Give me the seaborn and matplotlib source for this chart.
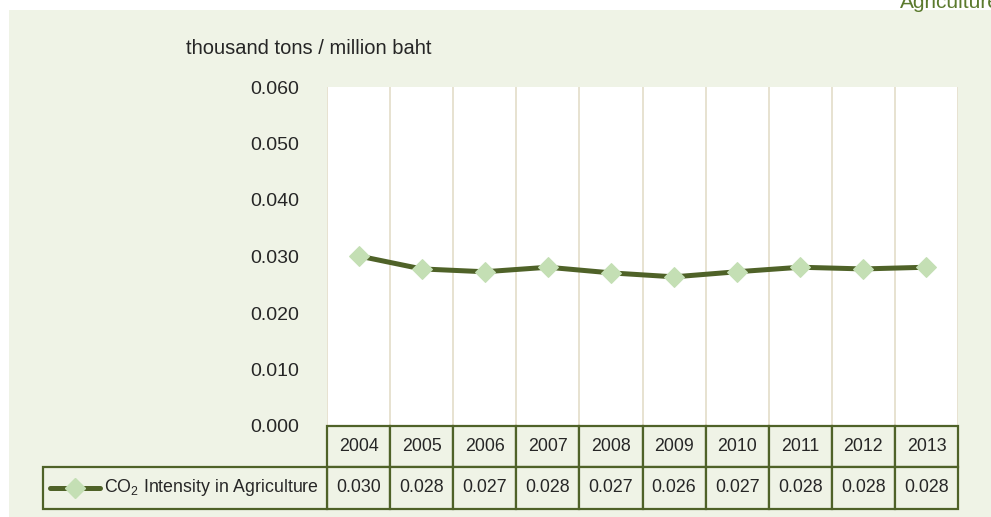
import matplotlib
matplotlib.use("Agg")
import matplotlib.pyplot as plt
import seaborn as sns
import pandas as pd
from matplotlib.patches import Rectangle
from matplotlib.lines import Line2D

years = ["2004", "2005", "2006", "2007", "2008", "2009", "2010", "2011", "2012", "2013"]
values = [0.0301, 0.0278, 0.0273, 0.0281, 0.0271, 0.0264, 0.0273, 0.0281, 0.0278, 0.0281]
y_ticks = [0.000, 0.010, 0.020, 0.030, 0.040, 0.050, 0.060]
series_name = "CO$_2$ Intensity in Agriculture"
unit_label = "thousand tons / million baht"
corner_title = "Agriculture"

sns.set_theme(style="white")
plt.rcParams["font.family"] = ["Liberation Sans", "DejaVu Sans"]
plt.rcParams["mathtext.fontset"] = "custom"
plt.rcParams["mathtext.rm"] = "Liberation Sans"
plt.rcParams["mathtext.it"] = "Liberation Sans:italic"

W, H = 991, 517
BG = "#EFF3E6"
LINE = "#4F6228"
MARK = "#C4DFB4"
GRID = "#E3DDC8"
TXT = "#262626"

fig = plt.figure(figsize=(W / 100, H / 100), dpi=100)
fig.patch.set_facecolor("white")

def fx(px):
    return px / W

def fy(py):
    return 1 - py / H

# green panel
fig.patches.append(Rectangle((fx(9), fy(517)), fx(991) - fx(9), fy(10) - fy(517),
                             transform=fig.transFigure, facecolor=BG, edgecolor="none", zorder=0))
fig.text(fx(900), fy(8), corner_title, color="#5B7A2E", fontsize=15, ha="left",
         va="baseline", zorder=1)

L, R, T, B = 327, 958, 87, 426
ax = fig.add_axes([fx(L), fy(B), fx(R) - fx(L), fy(T) - fy(B)])
ax.set_zorder(1)
ax.set_facecolor("white")

df = pd.DataFrame({"idx": list(range(len(years))), "value": values})
sns.lineplot(data=df, x="idx", y="value", ax=ax, color=LINE, linewidth=3.6,
             marker="D", markersize=10, markerfacecolor=MARK, markeredgecolor=MARK,
             zorder=3)
ax.set_xlim(-0.5, len(years) - 0.5)
ax.set_ylim(0, 0.06)
for i in range(len(years) + 1):
    ax.axvline(i - 0.5, color=GRID, linewidth=1.2, zorder=1)
for s in ax.spines.values():
    s.set_visible(False)
ax.set_xticks([])
ax.set_yticks(y_ticks)
ax.set_yticklabels([f"{v:.3f}" for v in y_ticks], fontsize=14, color=TXT)
ax.tick_params(axis="y", length=0, pad=20)
ax.set_xlabel("")
ax.set_ylabel("")
ax.grid(False)

fig.text(fx(186), fy(48), unit_label, fontsize=14.5, color=TXT, ha="left", va="center",
         zorder=3)

# table
col_w = (R - L) / len(years)
r1t, r1b, r2b = 426, 467, 509
leg_l = 43
for i, yr in enumerate(years):
    x0 = L + i * col_w
    fig.patches.append(Rectangle((fx(x0), fy(r1b)), fx(col_w), fy(r1t) - fy(r1b),
                                 transform=fig.transFigure, facecolor=BG, edgecolor=LINE,
                                 linewidth=1.6, zorder=2))
    fig.patches.append(Rectangle((fx(x0), fy(r2b)), fx(col_w), fy(r1b) - fy(r2b),
                                 transform=fig.transFigure, facecolor=BG, edgecolor=LINE,
                                 linewidth=1.6, zorder=2))
    fig.text(fx(x0 + col_w / 2), fy((r1t + r1b) / 2), yr, fontsize=12.8, color=TXT,
             ha="center", va="center", zorder=3)
    fig.text(fx(x0 + col_w / 2), fy((r1b + r2b) / 2), f"{values[i]:.3f}", fontsize=12.8,
             color=TXT, ha="center", va="center", zorder=3)

fig.patches.append(Rectangle((fx(leg_l), fy(r2b)), fx(L - leg_l), fy(r1b) - fy(r2b),
                             transform=fig.transFigure, facecolor=BG, edgecolor=LINE,
                             linewidth=1.6, zorder=2))
ymid = fy((r1b + r2b) / 2)
fig.lines.append(Line2D([fx(50), fx(100)], [ymid, ymid], transform=fig.transFigure,
                        color=LINE, linewidth=3.6, zorder=3))
fig.lines.append(Line2D([fx(75)], [ymid], transform=fig.transFigure, marker="D",
                        markersize=10, markerfacecolor=MARK, markeredgecolor=MARK,
                        linestyle="none", zorder=4))
fig.text(fx(104), ymid, series_name, fontsize=12.8, color=TXT, ha="left", va="center",
         zorder=3)

fig.savefig("out.png", dpi=100, facecolor=fig.get_facecolor())
